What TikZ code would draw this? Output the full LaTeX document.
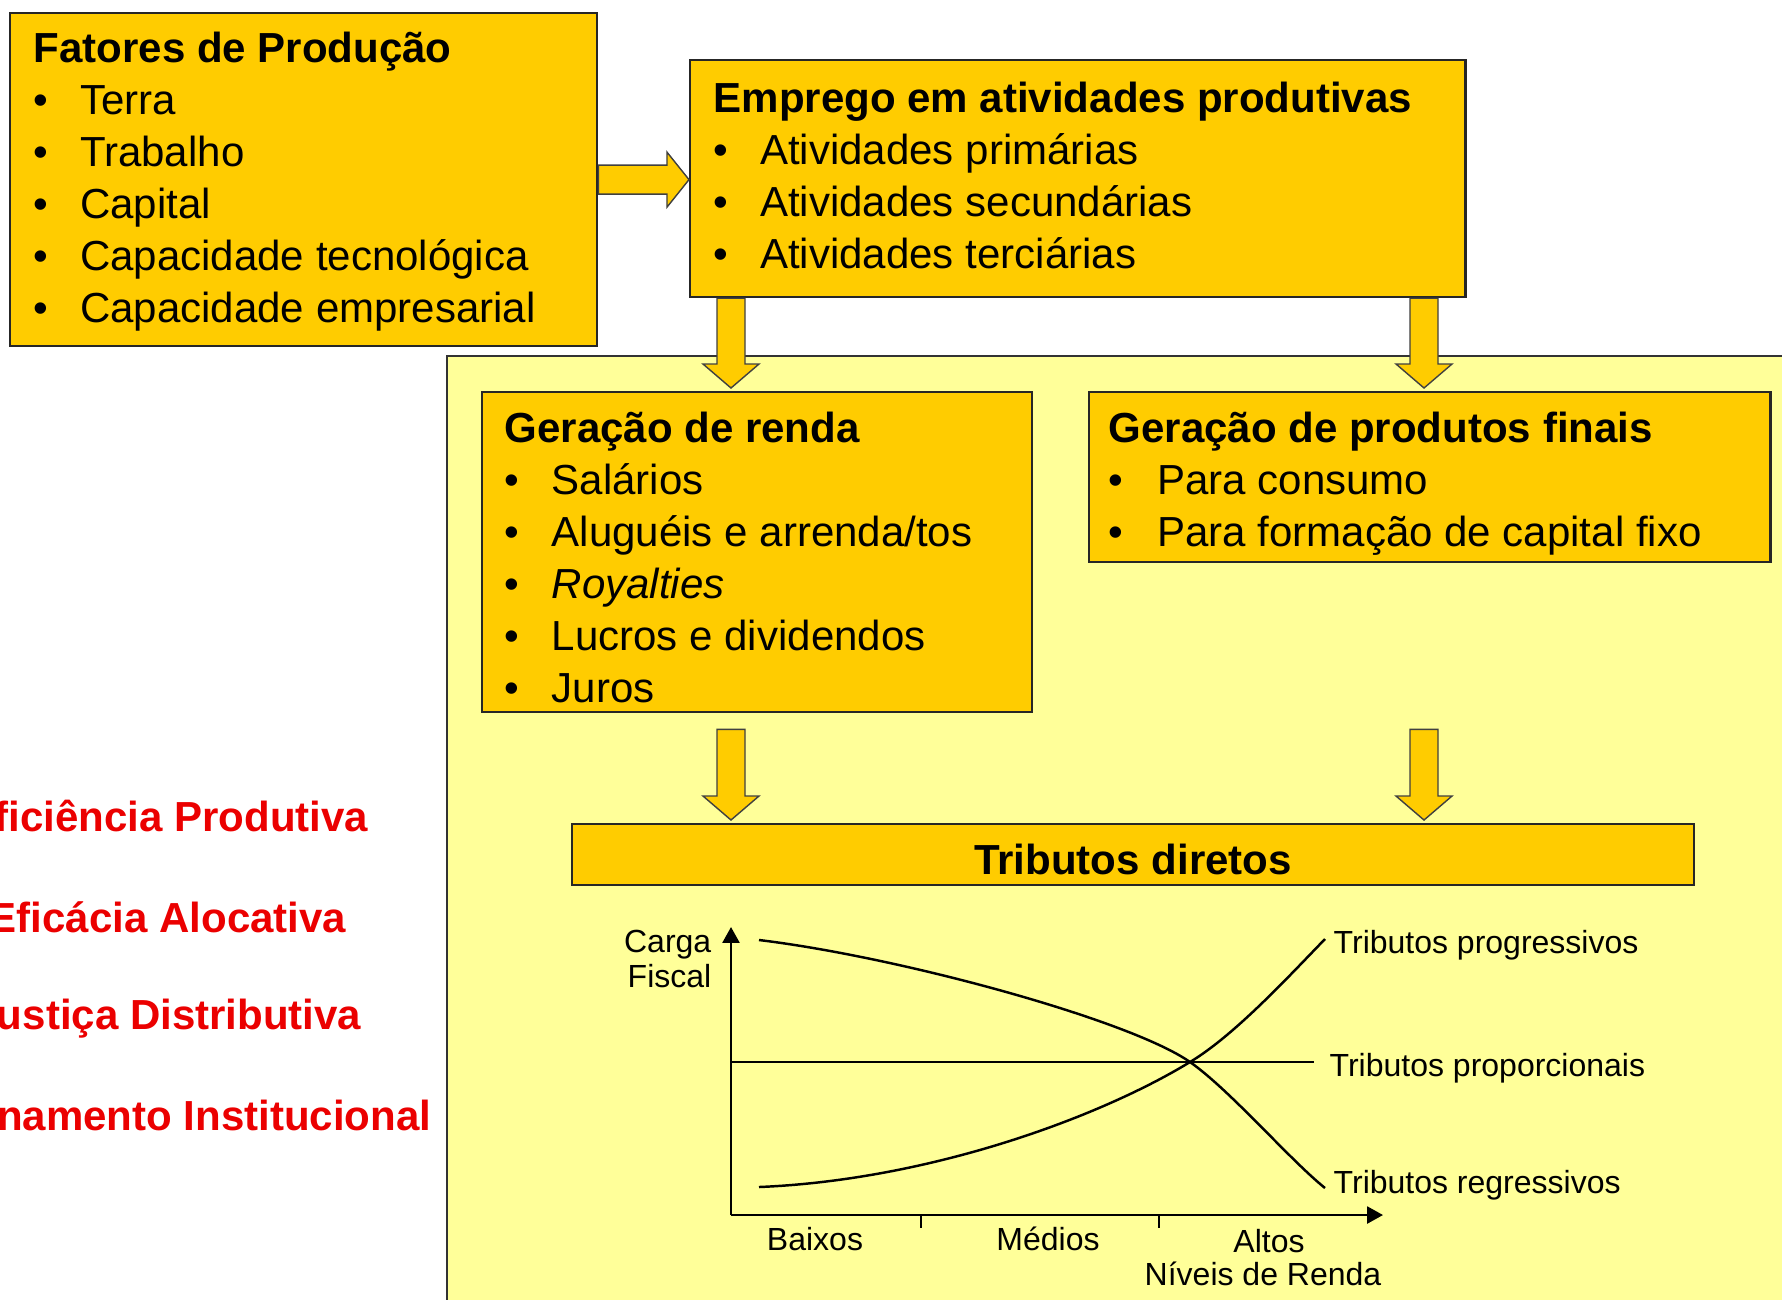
\documentclass[tikz,border=0pt]{standalone}
\usepackage{fontspec}
\setmainfont{Liberation Sans}
\usetikzlibrary{calc,arrows.meta}

\definecolor{boxyellow}{RGB}{255,204,0}
\definecolor{panelyellow}{RGB}{255,255,153}
\definecolor{alertred}{RGB}{235,0,0}

\tikzset{
  box/.style={draw=black!85, line width=0.6pt, fill=boxyellow, inner sep=0pt, anchor=north west},
  boxtext/.style={inner sep=0pt, anchor=base west, font=\fontsize{11.95}{14.8}\selectfont},
  redlabel/.style={inner sep=0pt, anchor=base east, text=alertred, font=\bfseries\fontsize{11.95}{14.8}\selectfont},
  charttext/.style={inner sep=0pt, font=\fontsize{9.1}{10}\selectfont},
  axis/.style={line width=0.7pt, -{Triangle[length=4.5pt,width=4.8pt]}},
  curve/.style={line width=0.7pt},
  arrowbody/.style={fill=boxyellow, draw=black!75, line width=0.4pt},
  blockdown/.style={arrowbody, to path={let \p1=(\tikztostart), \p2=(\tikztotarget) in
      (\x1-0.14cm,\y1) -- (\x1+0.14cm,\y1) -- (\x1+0.14cm,\y2+0.24cm)
      -- (\x1+0.28cm,\y2+0.24cm) -- (\x1,\y2) -- (\x1-0.28cm,\y2+0.24cm)
      -- (\x1-0.14cm,\y2+0.24cm) -- cycle}},
  blockright/.style={arrowbody, to path={let \p1=(\tikztostart), \p2=(\tikztotarget) in
      (\x1,\y1+0.145cm) -- (\x2-0.22cm,\y1+0.145cm) -- (\x2-0.22cm,\y1+0.275cm)
      -- (\x2,\y1) -- (\x2-0.22cm,\y1-0.275cm) -- (\x2-0.22cm,\y1-0.145cm)
      -- (\x1,\y1-0.145cm) -- cycle}}
}

\begin{document}
\begin{tikzpicture}[x=0.01cm, y=-0.01cm]

  \useasboundingbox (0,0) rectangle (1782,1299);
  \fill[white] (0,0) rectangle (1782,1299);

  % light panel behind the lower part
  \draw[fill=panelyellow, draw=black!80, line width=0.6pt] (447,356) rectangle (1800,1320);

  % boxes
  \node[box, minimum width=5.87cm, minimum height=3.33cm] (fatores) at (9,12) {};
  \node[box, minimum width=7.75cm, minimum height=2.37cm] (emprego) at (689,59) {};
  \node[box, minimum width=5.50cm, minimum height=3.20cm] (renda) at (481,391) {};
  \node[box, minimum width=6.81cm, minimum height=1.70cm] (produtos) at (1088,391) {};
  \node[box, minimum width=11.21cm, minimum height=0.61cm] (tributos) at (571,823) {};

  \node[boxtext] (fatorestxt) at (33,62) {\begin{tabular}[t]{@{}p{13.2pt}@{}l@{}}
    \multicolumn{2}{@{}l@{}}{\bfseries Fatores de Produção}\\
    \textbullet & Terra\\
    \textbullet & Trabalho\\
    \textbullet & Capital\\
    \textbullet & Capacidade tecnológica\\
    \textbullet & Capacidade empresarial
  \end{tabular}};

  \node[boxtext] (empregotxt) at (713,112) {\begin{tabular}[t]{@{}p{13.2pt}@{}l@{}}
    \multicolumn{2}{@{}l@{}}{\bfseries Emprego em atividades produtivas}\\
    \textbullet & Atividades primárias\\
    \textbullet & Atividades secundárias\\
    \textbullet & Atividades terciárias
  \end{tabular}};

  \node[boxtext] (rendatxt) at (504,442) {\begin{tabular}[t]{@{}p{13.4pt}@{}l@{}}
    \multicolumn{2}{@{}l@{}}{\bfseries Geração de renda}\\
    \textbullet & Salários\\
    \textbullet & Aluguéis e arrenda/tos\\
    \textbullet & \itshape Royalties\\
    \textbullet & Lucros e dividendos\\
    \textbullet & Juros
  \end{tabular}};

  \node[boxtext] (produtostxt) at (1108,442) {\begin{tabular}[t]{@{}p{13.8pt}@{}l@{}}
    \multicolumn{2}{@{}l@{}}{\bfseries Geração de produtos finais}\\
    \textbullet & Para consumo\\
    \textbullet & Para formação de capital fixo
  \end{tabular}};

  \node[boxtext, anchor=base, font=\bfseries\fontsize{11.95}{14.8}\selectfont] (tributostxt) at (1133,874) {Tributos diretos};

  % block arrows
  \coordinate (colL) at (731,0);
  \coordinate (colR) at (1424,0);
  \draw[blockright] (fatores.east) to (emprego.west |- fatores.east);
  \draw[blockdown] (emprego.south -| colL) to ($(renda.north -| colL)+(0,-3)$);
  \draw[blockdown] (emprego.south -| colR) to ($(produtos.north -| colR)+(0,-3)$);
  \draw[blockdown] ($(renda.south -| colL)+(0,16)$) to ($(tributos.north -| colL)+(0,-3)$);
  \draw[blockdown] ($(renda.south -| colR)+(0,16)$) to ($(tributos.north -| colR)+(0,-3)$);

  % red labels on the left
  \node[redlabel] (eficiencia) at (369,831) {Eficiência Produtiva};
  \node[redlabel] (eficacia) at (347,932) {Eficácia Alocativa};
  \node[redlabel] (justica) at (362,1029) {Justiça Distributiva};
  \node[redlabel] (ordenamento) at (432,1130) {Ordenamento Institucional};

  % chart
  \coordinate (origin) at (731,1215);
  \coordinate (cross) at (1190,1062);
  \draw[axis] (origin) -- (731,927);
  \draw[axis] (origin) -- (1383,1215);
  \foreach \t in {921,1159}
    \draw[line width=0.45pt] (\t,1215) -- (\t,1228);
  \draw[line width=0.5pt] (731,1062) -- (1314,1062);

  \draw[curve] (759,940) .. controls (900,957) and (1130,1020) .. (cross)
    .. controls (1230,1090) and (1290,1160) .. (1325,1188);
  \draw[curve] (759,1187) .. controls (930,1180) and (1100,1117) .. (cross)
    .. controls (1235,1035) and (1290,975) .. (1325,939);

  \node[charttext, anchor=base east] (carga) at (712,952) {\begin{tabular}[t]{@{}r@{}}Carga\\Fiscal\end{tabular}};
  \node[charttext, anchor=base west] (progr) at (1333,953) {Tributos progressivos};
  \node[charttext, anchor=base west] (propor) at (1329,1076) {Tributos proporcionais};
  \node[charttext, anchor=base west] (regr) at (1333,1193) {Tributos regressivos};
  \node[charttext, anchor=base] (baixos) at (815,1250) {Baixos};
  \node[charttext, anchor=base] (medios) at (1048,1250) {Médios};
  \node[charttext, anchor=base] (altos) at (1269,1252) {Altos};
  \node[charttext, anchor=base] (niveis) at (1263,1285) {Níveis de Renda};

\end{tikzpicture}
\end{document}
